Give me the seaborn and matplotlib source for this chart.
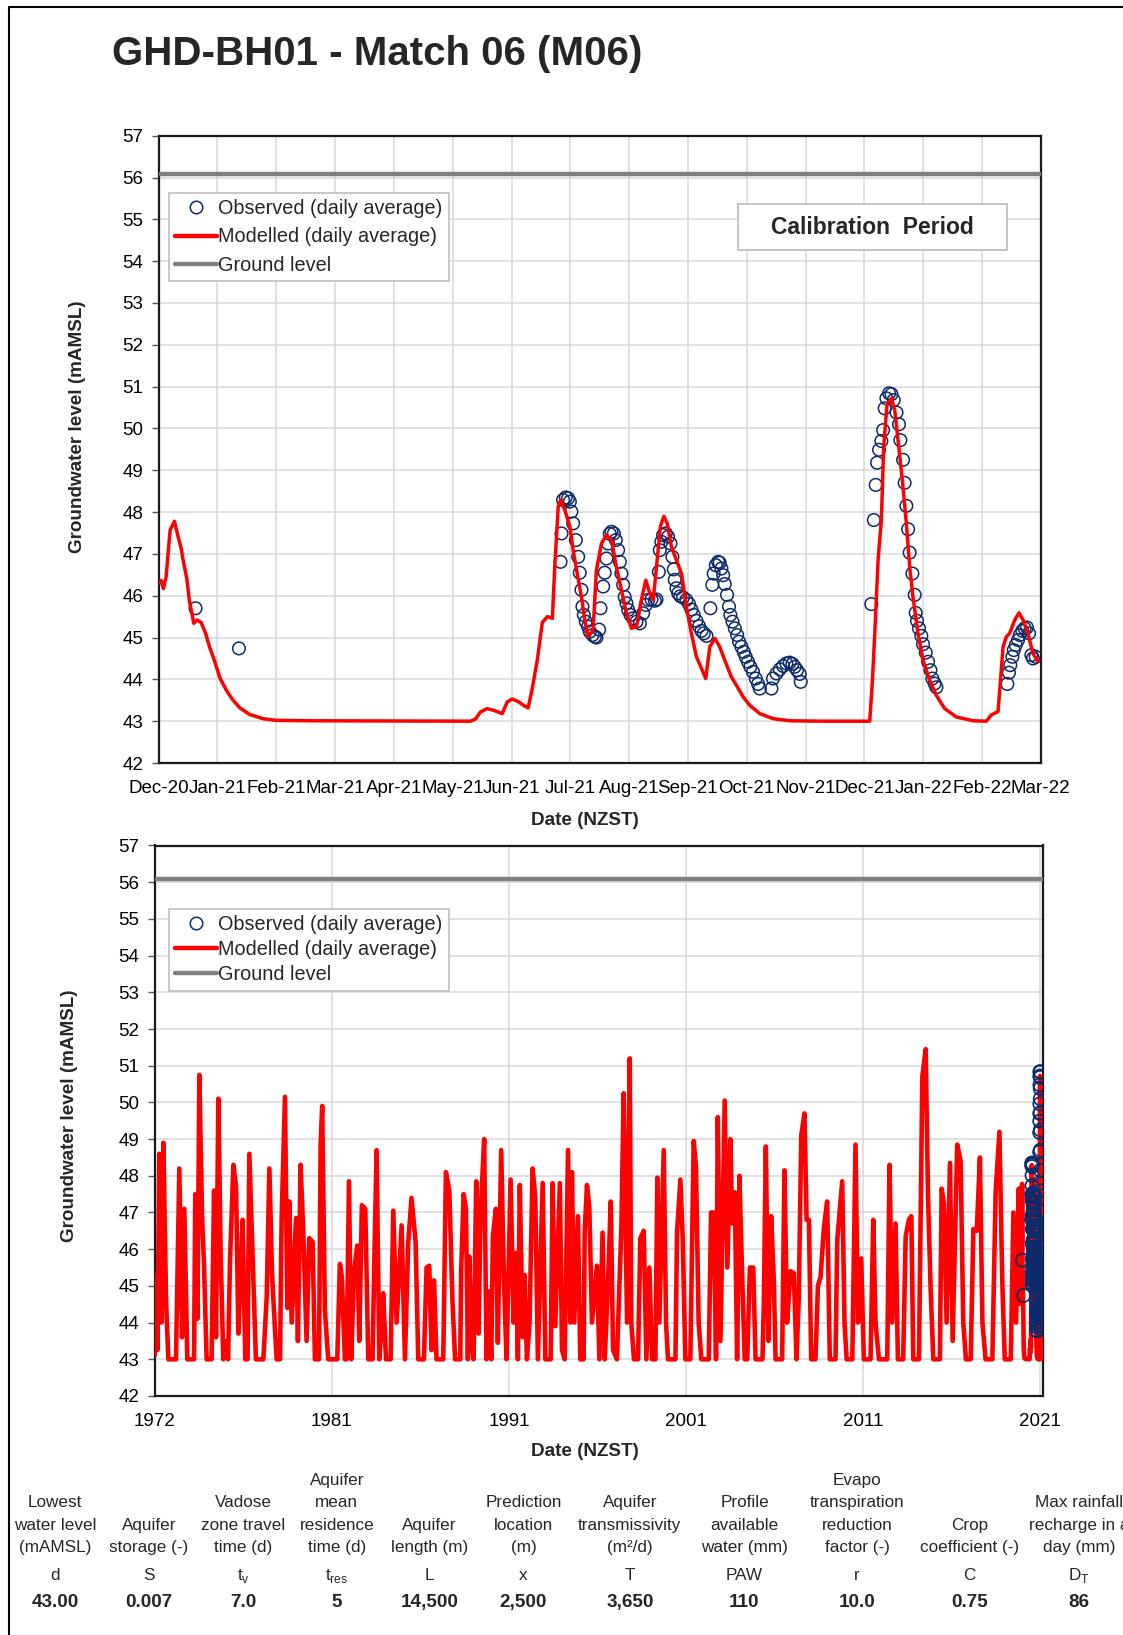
import numpy as np
import pandas as pd
import matplotlib
matplotlib.use("Agg")
import matplotlib.pyplot as plt
import matplotlib.dates as mdates
from matplotlib.lines import Line2D
from matplotlib.patches import Rectangle
import seaborn as sns

# ---------------- data ----------------
# calibration period, modelled (days after 1 Dec 2020, mAMSL)
calib_day = [
    0, 1.2, 2.4, 3.8, 5.9, 8.1, 9.8, 11.6, 12.4, 14.5,
    15.9, 17.3, 18.1, 19.8, 21.9, 24.2, 26.2, 28.8, 31.7, 34.9,
    38.0, 41.8, 46.9, 53.8, 60.4, 78.0, 160.8, 163.4, 166.0, 169.4,
    172.9, 177.2, 179.8, 182.4, 185.8, 188.4, 190.6, 192.7, 195.3, 197.9,
    200.5, 203.1, 204.3, 206.1, 207.3, 209.5, 212.1, 213.8, 215.9, 218.1,
    219.8, 221.5, 224.1, 225.8, 228.4, 231.0, 233.6, 236.1, 238.7, 241.3,
    243.9, 246.5, 249.0, 251.3, 253.3, 255.1, 256.8, 258.8, 260.6, 262.3,
    264.5, 267.1, 269.7, 272.2, 274.8, 277.4, 280.0, 282.2, 284.3, 286.9,
    289.4, 292.0, 295.4, 298.0, 301.5, 304.9, 310.1, 317.0, 325.5, 342.7,
    366.8, 368.2, 369.4, 371.1, 372.8, 374.0, 375.7, 378.0, 379.7, 381.4,
    383.6, 385.7, 387.4, 389.1, 391.7, 394.3, 397.7, 401.1, 405.5, 411.5,
    420.1, 427.0, 429.5, 433.0, 435.6, 437.3, 439.0, 441.6, 443.8, 445.9,
    448.4, 451.0, 453.6,
]
calib_level = [
    46.3, 46.37, 46.17, 46.45, 47.57, 47.78, 47.45, 47.13, 46.9, 46.41,
    45.85, 45.54, 45.34, 45.42, 45.36, 45.1, 44.78, 44.44, 44.02, 43.74,
    43.52, 43.32, 43.16, 43.06, 43.02, 43.01, 43.0, 43.05, 43.22, 43.3,
    43.26, 43.18, 43.46, 43.53, 43.46, 43.37, 43.32, 43.78, 44.46, 45.36,
    45.5, 45.46, 46.69, 48.13, 48.29, 48.05, 47.65, 47.09, 46.53, 45.97,
    45.42, 45.02, 45.18, 46.61, 47.25, 47.45, 47.33, 46.69, 46.14, 45.58,
    45.22, 45.26, 45.9, 46.37, 46.06, 45.9, 46.69, 47.65, 47.9, 47.73,
    47.17, 46.85, 46.53, 45.74, 45.1, 44.54, 44.26, 44.02, 44.78, 44.98,
    44.78, 44.46, 44.06, 43.86, 43.58, 43.38, 43.18, 43.06, 43.01, 43.0,
    43.0, 43.98, 45.1, 46.85, 47.81, 49.56, 50.56, 50.72, 50.44, 49.72,
    48.77, 47.73, 46.69, 45.97, 45.1, 44.46, 43.98, 43.62, 43.3, 43.1,
    43.01, 43.0, 43.15, 43.23, 44.78, 45.02, 45.1, 45.42, 45.59, 45.42,
    45.1, 44.62, 44.42,
]

# observed daily averages (days after 1 Dec 2020, mAMSL)
obs_day = [
    19.0, 41.4, 207.3, 207.8, 208.6, 210.0, 211.2, 212.1, 212.9, 213.8,
    215.2, 216.4, 217.2, 218.1, 218.6, 219.3, 220.3, 221.5, 222.4, 223.8,
    225.0, 225.8, 227.2, 227.9, 229.3, 230.1, 231.0, 231.8, 232.7, 233.6,
    234.8, 235.8, 237.0, 237.9, 238.7, 239.6, 240.4, 241.3, 242.2, 243.4,
    244.7, 246.5, 248.2, 249.9, 251.3, 252.5, 254.2, 255.9, 256.8, 258.0,
    258.5, 259.3, 260.2, 261.6, 262.8, 264.0, 265.0, 265.7, 266.2, 267.1,
    268.0, 269.1, 270.5, 272.2, 273.6, 274.8, 276.0, 277.4, 278.8, 280.0,
    281.2, 282.6, 284.6, 285.6, 286.3, 287.4, 288.6, 289.4, 290.3, 291.2,
    292.0, 293.2, 294.2, 294.9, 296.0, 297.2, 298.4, 299.4, 300.6, 301.8,
    302.8, 304.0, 305.2, 306.6, 308.0, 309.2, 310.1, 316.1, 316.9, 318.7,
    320.4, 322.1, 323.8, 325.5, 326.9, 328.1, 329.3, 330.7, 331.2, 367.6,
    368.9, 369.9, 370.6, 371.6, 372.8, 373.7, 374.5, 375.4, 376.8, 378.0,
    379.2, 380.6, 381.9, 382.6, 384.0, 384.8, 385.7, 386.6, 387.4, 388.8,
    390.0, 390.5, 391.2, 392.2, 393.4, 394.3, 395.7, 396.9, 398.1, 399.1,
    400.3, 401.2, 437.8, 438.6, 439.3, 440.4, 441.1, 442.1, 443.3, 444.2,
    445.5, 446.7, 447.9, 449.0, 450.2, 451.0, 452.4,
]
obs_level = [
    45.7, 44.74, 46.81, 47.49, 48.29, 48.35, 48.33, 48.25, 48.01, 47.73,
    47.33, 46.93, 46.55, 46.14, 45.74, 45.54, 45.38, 45.26, 45.14, 45.06,
    45.02, 45.0, 45.19, 45.7, 46.22, 46.55, 46.89, 47.25, 47.48, 47.53,
    47.49, 47.33, 47.09, 46.81, 46.53, 46.26, 45.97, 45.82, 45.66, 45.54,
    45.46, 45.38, 45.34, 45.58, 45.78, 45.9, 45.91, 45.88, 45.91, 46.57,
    47.09, 47.29, 47.45, 47.49, 47.41, 47.25, 46.93, 46.63, 46.38, 46.18,
    46.06, 45.99, 45.96, 45.9, 45.8, 45.67, 45.54, 45.4, 45.27, 45.16,
    45.1, 45.04, 45.7, 46.26, 46.53, 46.73, 46.81, 46.79, 46.65, 46.49,
    46.28, 46.02, 45.74, 45.54, 45.38, 45.22, 45.06, 44.9, 44.78, 44.66,
    44.54, 44.42, 44.3, 44.18, 44.02, 43.89, 43.78, 43.78, 44.02, 44.14,
    44.24, 44.32, 44.38, 44.4, 44.37, 44.3, 44.22, 44.13, 43.94, 45.8,
    47.81, 48.65, 49.18, 49.49, 49.7, 49.96, 50.48, 50.72, 50.84, 50.82,
    50.68, 50.38, 50.1, 49.72, 49.25, 48.7, 48.15, 47.59, 47.03, 46.53,
    46.02, 45.59, 45.4, 45.22, 45.04, 44.84, 44.64, 44.42, 44.22, 44.02,
    43.9, 43.81, 43.89, 44.16, 44.34, 44.54, 44.7, 44.82, 44.94, 45.06,
    45.16, 45.22, 45.24, 45.1, 44.58, 44.5, 44.54,
]

# long-term modelled record before the calibration period (decimal year, mAMSL)
hist_year = [
    1972.0, 1972.08, 1972.15, 1972.26, 1972.38, 1972.49, 1972.64, 1972.77, 1973.2, 1973.39,
    1973.54, 1973.67, 1973.84, 1974.22, 1974.29, 1974.41, 1974.52, 1974.67, 1974.78, 1974.93,
    1975.21, 1975.35, 1975.46, 1975.59, 1975.72, 1975.87, 1975.98, 1976.14, 1976.25, 1976.44,
    1976.59, 1976.72, 1976.85, 1976.96, 1977.11, 1977.24, 1977.34, 1977.49, 1977.71, 1978.13,
    1978.32, 1978.47, 1978.62, 1978.88, 1979.07, 1979.16, 1979.35, 1979.48, 1979.59, 1979.73,
    1979.97, 1980.08, 1980.23, 1980.38, 1980.57, 1980.72, 1980.91, 1981.04, 1981.27, 1981.36,
    1981.45, 1981.6, 1981.79, 1982.3, 1982.45, 1982.56, 1982.73, 1982.83, 1982.96, 1983.09,
    1983.24, 1983.43, 1983.54, 1983.69, 1983.88, 1984.05, 1984.29, 1984.41, 1984.52, 1984.67,
    1984.82, 1984.89, 1985.05, 1985.31, 1985.46, 1985.65, 1985.93, 1986.12, 1986.3, 1986.49,
    1986.72, 1986.87, 1987.19, 1987.34, 1987.49, 1987.62, 1987.76, 1987.9, 1988.28, 1988.43,
    1988.62, 1988.8, 1988.95, 1989.24, 1989.29, 1989.43, 1989.56, 1989.67, 1989.75, 1989.86,
    1989.99, 1990.14, 1990.27, 1990.39, 1990.59, 1990.72, 1990.84, 1990.99, 1991.08, 1991.25,
    1991.36, 1991.55, 1991.7, 1991.85, 1991.93, 1992.08, 1992.25, 1992.38, 1992.49, 1992.6,
    1992.76, 1992.87, 1993.0, 1993.15, 1993.32, 1993.47, 1993.62, 1993.89, 1994.04, 1994.34,
    1994.45, 1994.6, 1994.86, 1994.98, 1995.13, 1995.32, 1995.45, 1995.54, 1995.67, 1995.88,
    1996.01, 1996.2, 1996.26, 1996.39, 1996.52, 1996.67, 1996.95, 1997.09, 1997.27, 1997.39,
    1997.57, 1997.73, 1997.86, 1998.08, 1998.33, 1998.46, 1998.65, 1998.8, 1998.89, 1999.04,
    1999.27, 1999.4, 1999.59, 1999.74, 1999.91, 2000.06, 2000.25, 2000.36, 2000.47, 2000.72,
    2000.85, 2000.96, 2001.38, 2001.47, 2001.66, 2001.79, 2001.94, 2002.22, 2002.41, 2002.54,
    2002.69, 2002.84, 2003.26, 2003.39, 2003.54, 2003.67, 2003.77, 2003.92, 2004.16, 2004.31,
    2004.48, 2004.58, 2004.73, 2004.86, 2004.99, 2005.14, 2005.29, 2005.43, 2005.58, 2005.77,
    2005.9, 2006.29, 2006.37, 2006.48, 2006.63, 2006.78, 2006.93, 2007.03, 2007.4, 2007.53,
    2007.68, 2007.87, 2008.06, 2008.21, 2008.34, 2008.48, 2008.66, 2008.78, 2008.91, 2009.04,
    2009.28, 2009.42, 2009.57, 2009.76, 2009.94, 2010.09, 2010.41, 2010.51, 2010.79, 2010.92,
    2011.04, 2011.36, 2011.54, 2011.68, 2011.86, 2012.01, 2012.39, 2012.54, 2012.67, 2012.86,
    2013.33, 2013.46, 2013.61, 2013.8, 2013.93, 2014.23, 2014.37, 2014.55, 2014.69, 2014.8,
    2015.12, 2015.31, 2015.5, 2015.63, 2015.78, 2015.93, 2016.3, 2016.4, 2016.53, 2016.68,
    2016.87, 2017.02, 2017.28, 2017.47, 2017.62, 2017.77, 2018.04, 2018.19, 2018.38, 2018.56,
    2018.7, 2018.88, 2019.26, 2019.45, 2019.66, 2019.82, 2019.96, 2020.3, 2020.45, 2020.6,
    2020.75, 2020.86,
]
hist_level = [
    43.1, 45.3, 43.25, 48.6, 44.0, 48.9, 44.6, 43.0, 43.0, 48.2,
    43.6, 47.1, 43.0, 43.0, 47.5, 44.1, 50.75, 46.9, 45.6, 43.0,
    43.0, 47.6, 43.6, 50.1, 45.9, 43.0, 43.5, 43.0, 45.7, 48.3,
    47.7, 43.7, 45.3, 46.8, 43.0, 43.0, 48.6, 46.3, 43.0, 43.0,
    44.7, 48.2, 45.3, 43.0, 43.0, 46.8, 50.15, 44.4, 47.3, 44.0,
    46.85, 43.5, 48.3, 46.5, 43.5, 46.3, 46.2, 43.0, 43.0, 48.85,
    49.9, 44.35, 43.0, 43.0, 45.6, 45.25, 43.0, 43.0, 47.85, 43.0,
    45.35, 46.1, 43.5, 47.2, 47.1, 43.0, 43.0, 46.15, 48.7, 43.0,
    44.0, 44.8, 43.0, 43.0, 47.05, 44.0, 46.65, 43.0, 46.15, 47.4,
    46.2, 43.0, 43.0, 45.5, 45.55, 43.25, 45.15, 43.0, 43.0, 48.1,
    47.6, 44.6, 43.0, 43.0, 45.4, 47.5, 47.1, 43.0, 45.8, 43.5,
    43.0, 47.85, 43.7, 47.0, 49.0, 43.0, 44.85, 43.0, 46.35, 47.1,
    43.45, 48.7, 45.25, 43.0, 44.7, 47.9, 44.0, 45.9, 43.0, 47.75,
    43.6, 45.3, 43.0, 44.0, 48.2, 47.45, 43.0, 47.8, 43.0, 43.0,
    47.8, 43.9, 47.8, 43.25, 43.0, 48.7, 44.0, 48.1, 44.0, 46.9,
    43.0, 43.0, 46.5, 47.75, 47.15, 44.0, 45.55, 43.0, 46.45, 43.0,
    45.0, 47.3, 43.25, 43.0, 46.6, 50.25, 44.0, 51.2, 44.0, 43.0,
    43.0, 46.3, 46.5, 43.0, 45.5, 43.0, 43.0, 47.95, 44.0, 48.7,
    44.0, 43.0, 43.0, 46.45, 47.9, 46.3, 43.0, 43.0, 48.95, 48.25,
    44.0, 43.0, 43.0, 47.0, 47.0, 43.0, 49.6, 43.5, 50.05, 45.5,
    49.0, 46.7, 47.55, 43.0, 48.0, 45.35, 43.0, 43.0, 45.5, 45.5,
    43.0, 43.0, 44.6, 48.8, 43.5, 46.9, 45.15, 43.0, 43.0, 48.15,
    44.0, 45.4, 45.35, 43.0, 44.7, 49.1, 49.7, 46.8, 46.8, 43.0,
    43.0, 45.0, 45.25, 46.6, 47.3, 43.0, 43.0, 46.25, 47.85, 44.0,
    43.0, 43.0, 48.85, 44.0, 45.75, 43.0, 43.0, 46.8, 44.0, 43.0,
    43.0, 48.3, 44.0, 46.7, 43.0, 43.0, 46.35, 46.8, 46.9, 43.0,
    43.0, 50.7, 51.45, 47.45, 44.9, 43.0, 43.0, 47.65, 47.25, 44.0,
    48.35, 43.5, 48.85, 48.4, 44.0, 43.0, 43.0, 46.55, 46.5, 48.5,
    44.0, 43.0, 43.0, 47.6, 49.2, 45.15, 43.0, 43.0, 47.0, 44.0,
    47.65, 44.5,
]

ground_level = 56.08

month_labels = ["Dec-20", "Jan-21", "Feb-21", "Mar-21", "Apr-21", "May-21", "Jun-21", "Jul-21",
                "Aug-21", "Sep-21", "Oct-21", "Nov-21", "Dec-21", "Jan-22", "Feb-22", "Mar-22"]
year_labels = ["1972", "1981", "1991", "2001", "2011", "2021"]

# parameter table
param_headers = [
    ["Lowest", "water level", "(mAMSL)"],
    ["Aquifer", "storage (-)"],
    ["Vadose", "zone travel", "time (d)"],
    ["Aquifer", "mean", "residence", "time (d)"],
    ["Aquifer", "length (m)"],
    ["Prediction", "location", "(m)"],
    ["Aquifer", "transmissivity", "(m\u00b2/d)"],
    ["Profile", "available", "water (mm)"],
    ["Evapo", "transpiration", "reduction", "factor (-)"],
    ["Crop", "coefficient (-)"],
    ["Max rainfall", "recharge in a", "day (mm)"],
]
param_symbols = ["d", "S", "t$_{\\mathregular{v}}$", "t$_{\\mathregular{res}}$", "L", "x", "T",
                 "PAW", "r", "C", "D$_{\\mathregular{T}}$"]
param_values = ["43.00", "0.007", "7.0", "5", "14,500", "2,500", "3,650", "110", "10.0", "0.75", "86"]

# ---------------- styling ----------------
W, H = 1123, 1635
RED = "#FF0000"
NAVY = "#0D2B6B"
GREY = "#808080"


def fx(x):
    return x / W


def fy(y):
    return 1 - y / H


sns.set_theme(style="whitegrid")
plt.rcParams["font.family"] = ["Liberation Sans", "DejaVu Sans"]
plt.rcParams["mathtext.fontset"] = "custom"
plt.rcParams["mathtext.rm"] = "Liberation Sans"

fig = plt.figure(figsize=(W / 100, H / 100), dpi=100)
fig.patch.set_facecolor("white")

ax1 = fig.add_axes([fx(158.7), fy(763), (1040.7 - 158.7) / W, (763 - 135.7) / H])
ax2 = fig.add_axes([fx(154.7), fy(1396), (1043.3 - 154.7) / W, (1396 - 845.5) / H])


def style_axes(ax):
    ax.set_ylim(42, 57)
    ax.set_yticks(range(42, 58))
    ax.grid(True, color="#d9d9d9", lw=1.1)
    ax.set_axisbelow(True)
    for s in ax.spines.values():
        s.set_color("#1a1a1a")
        s.set_linewidth(1.6)
    ax.tick_params(axis="y", left=True, length=5, width=1, color="#555555", pad=6,
                   labelsize=13.5, labelcolor="black")
    ax.tick_params(axis="x", bottom=False, length=0, pad=12, labelsize=13.5, labelcolor="black")
    ax.set_xlabel("")
    ax.set_ylabel("")


def add_legend(ax, top_y, spacing):
    handles = [
        Line2D([], [], ls="none", marker="o", mfc="none", mec=NAVY, ms=9, mew=1.1),
        Line2D([], [], color=RED, lw=3.2),
        Line2D([], [], color=GREY, lw=3.2),
    ]
    labels = ["Observed (daily average)", "Modelled (daily average)", "Ground level"]
    leg = ax.legend(handles, labels, loc="upper left", bbox_to_anchor=(fx(169), fy(top_y)),
                    bbox_transform=fig.transFigure, fontsize=14.3, frameon=True, fancybox=False,
                    edgecolor="#c0c0c0", framealpha=1, handlelength=2.1, handletextpad=0.05,
                    labelspacing=spacing, borderpad=0.32, borderaxespad=0)
    leg.get_frame().set_linewidth(1.2)
    leg.set_zorder(10)
    return leg


# ---------- top panel: calibration period ----------
start = pd.Timestamp("2020-12-01")
calib_dates = start + pd.to_timedelta(np.array(calib_day), unit="D")
obs_dates = start + pd.to_timedelta(np.array(obs_day), unit="D")

sns.scatterplot(x=obs_dates, y=obs_level, ax=ax1, marker="o", s=82, facecolor="none",
                edgecolor=NAVY, linewidth=1.1, legend=False, zorder=3)
sns.lineplot(x=calib_dates, y=calib_level, ax=ax1, color=RED, linewidth=2.5, sort=False,
             estimator=None, legend=False, zorder=4)
ax1.axhline(ground_level, color=GREY, lw=3.2, zorder=5)

style_axes(ax1)
top_ticks = [start + pd.Timedelta(days=i * 455 / 15) for i in range(len(month_labels))]
ax1.set_xlim(top_ticks[0], top_ticks[-1])
ax1.set_xticks(mdates.date2num(top_ticks))
ax1.set_xticklabels(month_labels)
add_legend(ax1, 193, 0.46)

# ---------- bottom panel: full record ----------
base = pd.Timestamp("1972-01-01")
hist_dates = base + pd.to_timedelta((np.array(hist_year) - 1972) * 365.25, unit="D")
all_dates = hist_dates.append(calib_dates)
all_levels = list(hist_level) + list(calib_level)

sns.lineplot(x=all_dates, y=all_levels, ax=ax2, color=RED, linewidth=3.3, sort=False,
             estimator=None, legend=False, zorder=3)
sns.scatterplot(x=obs_dates, y=obs_level, ax=ax2, marker="o", s=90, facecolor="none",
                edgecolor=NAVY, linewidth=1.2, legend=False, zorder=4)
ax2.axhline(ground_level, color=GREY, lw=3.2, zorder=5)

style_axes(ax2)
bottom_ticks = [base + pd.Timedelta(days=i * 3650) for i in range(len(year_labels))]
ax2.set_xlim(base, base + pd.Timedelta(days=18312))
ax2.set_xticks(mdates.date2num(bottom_ticks))
ax2.set_xticklabels(year_labels)
add_legend(ax2, 909, 0.3)

# ---------- text ----------
fig.text(fx(111.6), fy(54), "GHD-BH01 - Match 06 (M06)", fontsize=29, fontweight="bold",
         ha="left", va="center")
fig.text(fx(78), fy(427), "Groundwater level (mAMSL)", rotation=90, fontsize=13.6,
         fontweight="bold", ha="center", va="center")
fig.text(fx(69), fy(1116), "Groundwater level (mAMSL)", rotation=90, fontsize=13.6,
         fontweight="bold", ha="center", va="center")
fig.text(fx(585), fy(820.6), "Date (NZST)", fontsize=13.6, fontweight="bold", ha="center", va="center")
fig.text(fx(585), fy(1451.5), "Date (NZST)", fontsize=13.6, fontweight="bold", ha="center", va="center")

# calibration period box
fig.add_artist(Rectangle((fx(737.7), fy(250)), (1007.3 - 737.7) / W, (250 - 204) / H,
                         transform=fig.transFigure, fc="white", ec="#c0c0c0", lw=1.3, zorder=5))
fig.text(fx(872.5), fy(227), "Calibration  Period", fontsize=16.5, fontweight="bold",
         ha="center", va="center", zorder=6)

# parameter table (the last column runs off the right edge, as in the source sheet)
col_x = [55.3, 149.1, 243.0, 336.8, 429.6, 523.5, 629.8, 744.5, 857.1, 969.8, 1079.2]
row_y = [1480.7, 1502.6, 1525.5, 1547.4]
for cx, lines, sym, val in zip(col_x, param_headers, param_symbols, param_values):
    for k, line in enumerate(reversed(lines)):
        fig.text(fx(cx), fy(row_y[3 - k]), line, fontsize=12.3, ha="center", va="center")
    fig.text(fx(cx), fy(1575.6), sym, fontsize=12.3, ha="center", va="center")
    fig.text(fx(cx), fy(1602.7), val, fontsize=13.6, fontweight="bold", ha="center", va="center")

# outer frame
fig.add_artist(Line2D([fx(8.5), fx(8.5), 1.0], [0, fy(7), fy(7)], transform=fig.transFigure,
                      color="black", lw=1.5))

fig.savefig("out.png", dpi=100, facecolor="white")
plt.close(fig)
